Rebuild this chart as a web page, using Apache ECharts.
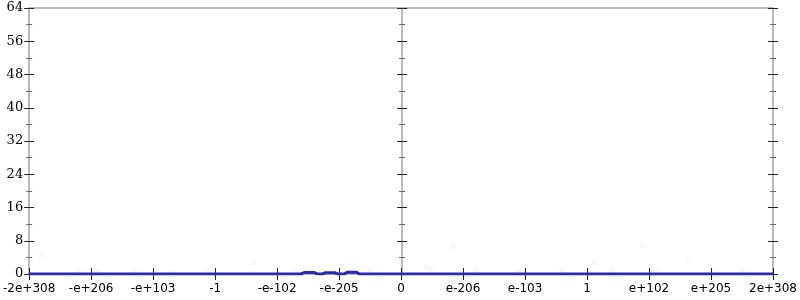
<!DOCTYPE html>
<html><head><meta charset="utf-8">
<script src="https://cdn.jsdelivr.net/npm/echarts@6/dist/echarts.min.js"></script>
<style>html,body{margin:0;padding:0;background:#fff}#c{width:800px;height:300px}</style>
</head><body><div id="c"></div>
<script>
const xTickLabels = ['-2e+308','-e+206','-e+103','-1','-e-102','-e-205','0','e-206','e-103','1','e+102','e+205','2e+308'];
const yTicks = [0, 64, 8];
const lineX = [-6, -1.62, -1.56, -1.40, -1.35, -1.27, -1.22, -1.07, -1.02, -0.92, -0.87, -0.72, -0.67, 6];
const lineY = [0, 0, 0.35, 0.35, 0, 0, 0.3, 0.3, 0, 0, 0.4, 0.4, 0, 0];
const dotX = [-5.80, -5.2, -4.9, -4.3, -3.7, -3.1, -2.38, -2.0, -1.7, -0.5, 0.42, 0.51, 0.835, 1.2, 1.9, 2.6, 3.12, 3.4, 3.89, 4.1, 4.64, 5.0, 5.5];
const dotY = [4.6, 0.8, 0.6, 0.7, 0.5, 0.9, 2.6, 0.7, 0.6, 0.8, 1.7, 1.4, 6.7, 0.7, 0.6, 0.8, 2.9, 0.7, 7.0, 0.8, 3.6, 0.7, 0.8];

const chart = echarts.init(document.getElementById('c'));
const gray = '#bbbbbb', tickCol = '#222';
const baseY = {type:'value', min:yTicks[0], max:yTicks[1], interval:yTicks[2], splitLine:{show:false}, minorSplitLine:{show:false}};
function yAx(pos, offset, inside, showLabel, showLine){
  return Object.assign({}, baseY, {position:pos, offset:offset,
    axisLine:{show:showLine, onZero:false, lineStyle:{color:gray, width:2}},
    axisTick:{show:true, inside:inside, length:5, lineStyle:{color:tickCol, width:1}},
    minorTick:{show:true, splitNumber:2, length:3, lineStyle:{color:'#666'}},
    axisLabel:{show:showLabel, margin:6, color:'#000', fontFamily:'DejaVu Serif', fontSize:13}});
}
const baseX = {type:'value', min:-6, max:6, interval:1, splitLine:{show:false}};
chart.setOption({
  animation:false,
  grid:{left:28, right:25, top:8, bottom:26, containLabel:false},
  xAxis:[
    Object.assign({}, baseX, {position:'bottom', axisLine:{show:true, onZero:false, lineStyle:{color:gray, width:2}},
      axisTick:{show:true, inside:false, length:6, lineStyle:{color:tickCol}},
      axisLabel:{show:true, margin:9, color:'#000', fontFamily:'DejaVu Sans', fontSize:12,
        formatter:v=>xTickLabels[Math.round(v)+6]}}),
    Object.assign({}, baseX, {position:'bottom', axisLine:{show:false},
      axisTick:{show:true, inside:true, length:6, lineStyle:{color:tickCol}}, axisLabel:{show:false}}),
    Object.assign({}, baseX, {position:'top', axisLine:{show:true, onZero:false, lineStyle:{color:gray, width:2}},
      axisTick:{show:false}, axisLabel:{show:false}})
  ],
  yAxis:[
    yAx('left', 0, false, true, true),
    yAx('left', 0, true, false, false),
    yAx('left', -373, false, false, true),
    yAx('left', -373, true, false, false),
    yAx('right', 0, false, false, true),
    yAx('right', 0, true, false, false)
  ],
  series:[
    {type:'scatter', xAxisIndex:0, yAxisIndex:0, symbolSize:6,
     itemStyle:{color:'rgba(110,110,255,0.06)'}, data:dotX.map((x,i)=>[x,dotY[i]]), z:1},
    {type:'line', xAxisIndex:0, yAxisIndex:0, symbol:'none', lineStyle:{color:'#2a2ab0', width:3},
     data:lineX.map((x,i)=>[x,lineY[i]]), z:5}
  ]
});
</script></body></html>
